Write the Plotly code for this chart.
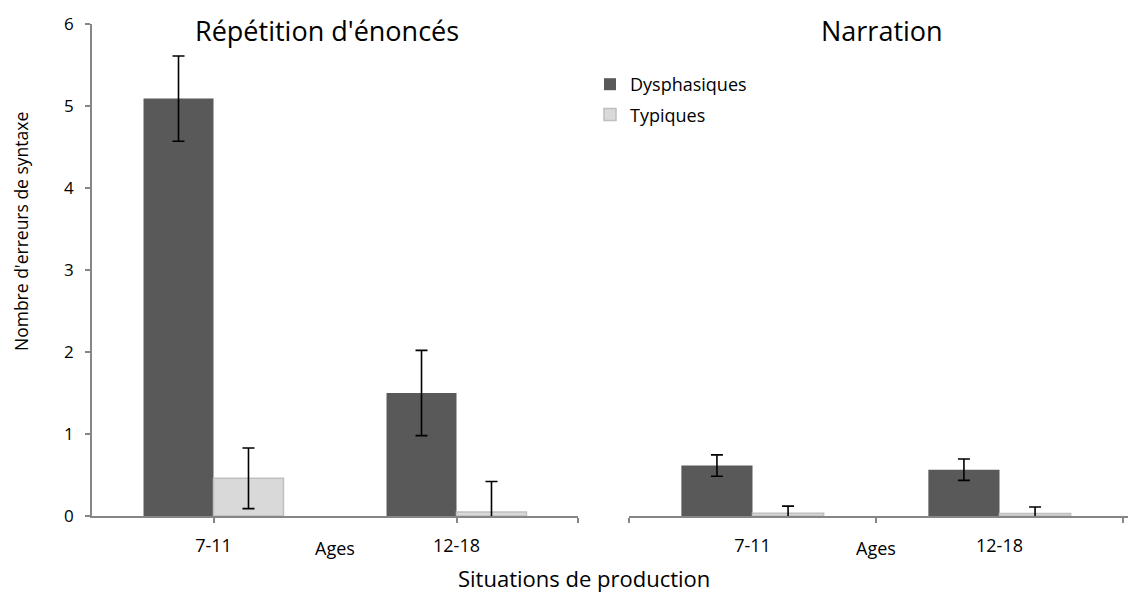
import plotly.graph_objects as go

# ---- data ----
age_groups = ["7-11", "12-18"]
group_axis_label = "Ages"
panels = ["Répétition d'énoncés", "Narration"]
series = ["Dysphasiques", "Typiques"]

rep_dys = [5.09, 1.50]
rep_dys_err = [0.52, 0.52]
rep_typ = [0.46, 0.05]
rep_typ_err = [0.37, 0.37]

nar_dys = [0.615, 0.565]
nar_dys_err = [0.13, 0.13]
nar_typ = [0.035, 0.03]
nar_typ_err = [0.085, 0.08]

y_ticks = [0, 1, 2, 3, 4, 5, 6]
y_title = "Nombre d'erreurs de syntaxe"
x_title = "Situations de production"

# ---- style ----
FONT = "Open Sans"
DARK = "#595959"
LIGHT = "#d9d9d9"
LIGHT_LINE = "#bfbfbf"
AXIS = "#868686"

OFF = 8  # browser body margin
W, H = 1136 - OFF, 593 - OFF
ML, MR, MT, MB = 92 - OFF, 0, 24 - OFF, 77
PW = W - ML - MR
PH = H - MT - MB
left_dom = [0, (578 - 92) / PW]
right_dom = [(629 - 92) / PW, 1]

xpos = [0.5, 1.5]

fig = go.Figure()

def err(v):
    return dict(type="data", array=v, visible=True, color="black", thickness=1.6, width=6)

fig.add_trace(go.Bar(name=series[0], x=xpos, y=rep_dys, error_y=err(rep_dys_err),
                     marker=dict(color=DARK, line=dict(width=0)),
                     xaxis="x", yaxis="y", legendgroup="d", showlegend=True))
fig.add_trace(go.Bar(name=series[1], x=xpos, y=rep_typ, error_y=err(rep_typ_err),
                     marker=dict(color=LIGHT, line=dict(color=LIGHT_LINE, width=1.5)),
                     xaxis="x", yaxis="y", legendgroup="t", showlegend=True))
fig.add_trace(go.Bar(name=series[0], x=xpos, y=nar_dys, error_y=err(nar_dys_err),
                     marker=dict(color=DARK, line=dict(width=0)),
                     xaxis="x2", yaxis="y2", legendgroup="d", showlegend=False))
fig.add_trace(go.Bar(name=series[1], x=xpos, y=nar_typ, error_y=err(nar_typ_err),
                     marker=dict(color=LIGHT, line=dict(color=LIGHT_LINE, width=1.5)),
                     xaxis="x2", yaxis="y2", legendgroup="t", showlegend=False))

xtickfont = dict(family=FONT, size=18, color="black")
ytickfont = dict(family=FONT, size=17, color="black")

fig.update_layout(
    width=W, height=H,
    margin=dict(l=ML, r=MR, t=MT, b=MB),
    plot_bgcolor="white", paper_bgcolor="white",
    barmode="group", bargap=0.424, bargroupgap=0,
    font=dict(family=FONT, color="black"),
    showlegend=True,
    legend=dict(x=(590 - 92) / PW, y=1 - (66 - 24) / PH, xanchor="left", yanchor="top",
                font=dict(family=FONT, size=18, color="black"),
                traceorder="grouped", tracegroupgap=4, itemwidth=30,
                bgcolor="rgba(0,0,0,0)"),
    xaxis=dict(domain=left_dom, range=[0, 2], showline=True, linecolor=AXIS, linewidth=1.5,
               tickvals=xpos, ticktext=age_groups, ticks="outside", ticklen=5, tickcolor=AXIS,
               tickwidth=1.5, tickfont=xtickfont, ticklabelstandoff=8, showgrid=False, zeroline=False,
               minor=dict(tickvals=[2], ticks="outside", ticklen=5, tickcolor=AXIS, tickwidth=1.5,
                          showgrid=False)),
    xaxis2=dict(domain=right_dom, range=[0, (1136 - 629) / 247], showline=True, linecolor=AXIS,
                linewidth=1.5, tickvals=xpos, ticktext=age_groups, ticks="", tickfont=xtickfont,
                ticklabelstandoff=13, showgrid=False, zeroline=False,
                minor=dict(tickvals=[0, 1, 2], ticks="outside", ticklen=5, tickcolor=AXIS,
                           tickwidth=1.5, showgrid=False)),
    yaxis=dict(range=[0, 6], tickvals=y_ticks, showline=True, linecolor=AXIS, linewidth=1.5,
               ticks="outside", ticklen=5, tickcolor=AXIS, tickwidth=1.5, tickfont=ytickfont,
               ticklabelstandoff=8, showgrid=False, zeroline=False, anchor="x"),
    yaxis2=dict(range=[0, 6], visible=False, anchor="x2"),
)

annotations = []
for cx, title in zip([327, 882], panels):
    annotations.append(dict(text=title, x=(cx - 92) / PW, y=1.0, xref="paper", yref="paper",
                            xanchor="center", showarrow=False, yanchor="middle", yshift=-6,
                            font=dict(family=FONT, size=27, color="black")))
for xr in ["x", "x2"]:
    annotations.append(dict(text=group_axis_label, x=1.0, xref=xr, y=0, yref="paper",
                            xanchor="center", yshift=-32, showarrow=False, yanchor="middle",
                            font=dict(family=FONT, size=18, color="black")))
annotations.append(dict(text=x_title, x=(584 - 92) / PW, xref="paper", y=0, yref="paper",
                        xanchor="center", yshift=-62, showarrow=False, yanchor="middle",
                        font=dict(family=FONT, size=22, color="black")))
annotations.append(dict(text=y_title, x=0, xref="paper", xshift=21 - 92, xanchor="center",
                        y=1 - (232 - 24) / PH, yref="paper", yanchor="middle", textangle=-90,
                        showarrow=False, font=dict(family=FONT, size=17.5, color="black")))
fig.update_layout(annotations=annotations)

fig.write_html("out.html")
